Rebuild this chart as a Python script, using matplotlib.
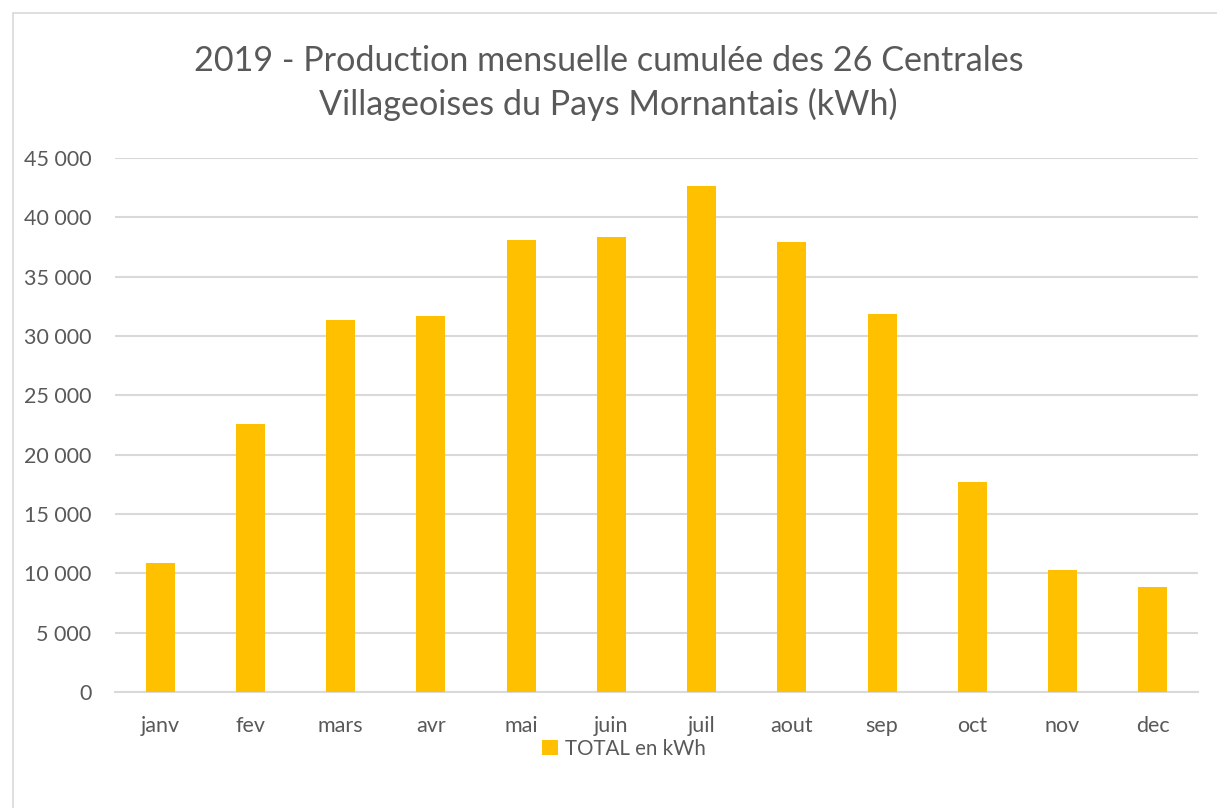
import numpy as np
import matplotlib
matplotlib.use('Agg')
import matplotlib.pyplot as plt
from matplotlib.patches import Rectangle
from matplotlib.ticker import FuncFormatter

# données
mois = ['janv', 'fev', 'mars', 'avr', 'mai', 'juin', 'juil', 'aout', 'sep', 'oct', 'nov', 'dec']
total_kwh = [10860, 22610, 31390, 31670, 38120, 38380, 42670, 37950, 31890, 17680, 10300, 8840]

titre = '2019 - Production mensuelle cumulée des 26 Centrales\nVillageoises du Pays Mornantais (kWh)'
gris = '#595959'
jaune = '#FFC000'

plt.rcParams['font.family'] = ['Lato', 'DejaVu Sans']

fig = plt.figure(figsize=(12.17, 8.08), dpi=100)
fig.patch.set_facecolor('white')

# cadre du graphique
fig.patches.append(Rectangle((13 / 1217, -0.01), 1.2, 1 - 13 / 808 + 0.01,
                             transform=fig.transFigure, fill=False,
                             edgecolor='#d9d9d9', linewidth=1.2))

ax = fig.add_axes([115 / 1217, 1 - 692 / 808, (1198 - 115) / 1217, (692 - 158) / 808])
x = np.arange(len(mois))
ax.bar(x, total_kwh, width=0.32, color=jaune, label='TOTAL en kWh', zorder=3)

ax.set_xlim(-0.5, len(mois) - 0.5)
ax.set_ylim(0, 45000)
ax.set_yticks(np.arange(0, 45001, 5000))
ax.yaxis.set_major_formatter(FuncFormatter(lambda v, p: f'{int(v):,}'.replace(',', ' ')))
ax.set_xticks(x)
ax.set_xticklabels(mois)

ax.grid(axis='y', color='#d9d9d9', linewidth=1.5, zorder=0)
for s in ['top', 'right', 'left']:
    ax.spines[s].set_visible(False)
ax.spines['bottom'].set_color('#d9d9d9')
ax.spines['bottom'].set_linewidth(1.5)
ax.tick_params(axis='both', length=0, labelsize=15.5, colors=gris)
ax.tick_params(axis='y', pad=17)
ax.tick_params(axis='x', pad=17)

fig.text(0.5, 1 - 83 / 808, titre, ha='center', va='center', fontsize=24.6,
         color=gris, linespacing=1.38)

ax.legend(loc='center', bbox_to_anchor=(624 / 1217, 1 - 749 / 808), bbox_transform=fig.transFigure,
          frameon=False, fontsize=14.8, labelcolor=gris, handlelength=0.75,
          handleheight=0.75, handletextpad=0.35)

fig.savefig('out.png', dpi=100, facecolor='white')
